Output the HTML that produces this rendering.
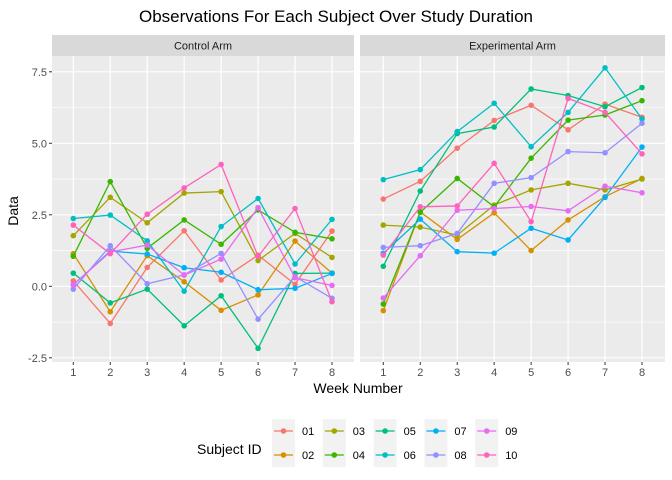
<!DOCTYPE html>
<html><head><meta charset="utf-8"><style>
body{margin:0;background:#fff;}
svg{display:block;font-family:"Liberation Sans",sans-serif;}
</style></head><body>
<svg id="chart" width="672" height="480" viewBox="0 0 672 480">
<text x="336" y="22" text-anchor="middle" font-size="17" fill="#000">Observations For Each Subject Over Study Duration</text>
<g id="panels"></g>
<text x="358" y="393" text-anchor="middle" font-size="14" fill="#000">Week Number</text>
<text transform="translate(18,211) rotate(-90)" text-anchor="middle" font-size="14" fill="#000">Data</text>
<text x="197" y="454" font-size="14" fill="#000">Subject ID</text>
<g id="legend"></g>
</svg>
<script>
const weeks=[1,2,3,4,5,6,7,8];
const subjects=["01","02","03","04","05","06","07","08","09","10"];
const colors=["#F8766D","#D89000","#A3A500","#39B600","#00BF7D","#00BFC4","#00B0F6","#9590FF","#E76BF3","#FF62BC"];
const yTicks=[-2.5,0,2.5,5,7.5];
const yTickLabels=["-2.5","0.0","2.5","5.0","7.5"];
const panelNames=["Control Arm","Experimental Arm"];
const control=[
[0.19,-1.3,0.66,1.94,0.22,1.09,0.07,1.93],
[1.14,-0.89,1.07,0.16,-0.84,-0.3,1.58,0.46],
[1.77,3.11,2.22,3.26,3.31,0.9,1.85,1.01],
[1.05,3.66,1.33,2.32,1.47,2.67,1.89,1.66],
[0.46,-0.58,-0.1,-1.38,-0.33,-2.17,0.45,0.46],
[2.37,2.49,1.59,-0.17,2.09,3.07,0.78,2.34],
[0.05,1.23,1.13,0.65,0.49,-0.12,-0.07,0.45],
[-0.1,1.42,0.09,0.4,1.15,-1.15,0.34,-0.42],
[0.05,1.2,1.44,0.39,0.95,2.75,0.3,0.03],
[2.14,1.14,2.52,3.44,4.26,1.04,2.72,-0.54]];
const experimental=[
[3.05,3.67,4.83,5.8,6.33,5.47,6.37,5.91],
[-0.85,2.6,1.64,2.57,1.25,2.32,3.13,3.77],
[2.14,2.07,1.79,2.84,3.37,3.6,3.37,3.75],
[-0.62,2.59,3.77,2.78,4.48,5.81,5.99,6.49],
[0.7,3.33,5.34,5.57,6.9,6.67,6.28,6.95],
[3.73,4.08,5.41,6.4,4.88,6.08,7.64,5.85],
[1.15,2.35,1.21,1.16,2.03,1.62,3.11,4.87],
[1.36,1.42,1.85,3.6,3.8,4.71,4.67,5.7],
[-0.41,1.07,2.66,2.72,2.79,2.64,3.5,3.27],
[1.09,2.78,2.81,4.3,2.26,6.57,6.08,4.63]];
const datasets=[control,experimental];
const NS="http://www.w3.org/2000/svg";
function mk(t,a,p){const e=document.createElementNS(NS,t);for(const k in a)e.setAttribute(k,a[k]);p.appendChild(e);return e;}
const panelX=[52,360],panelW=[302,305],pTop=56,pBot=362;
function yS(v){return 286.3-28.6*v;}
const panels=document.getElementById('panels');
for(let p=0;p<2;p++){
 const x0=panelX[p],w=panelW[p];
 const first=p==0?73.3:383.3,last=p==0?332:642;
 const sp=(last-first)/7;
 const xS=function(wk){return first+(wk-1)*sp;};
 const g=mk('g',{},panels);
 
 
 const strip=mk('rect',{x:x0,y:35,width:w,height:21,fill:'#D9D9D9'},g);
 
 
 const st=mk('text',{x:x0+w/2,y:49.5,'text-anchor':'middle','font-size':11,fill:'#1a1a1a'},g);
 st.textContent=panelNames[p];
 
 
 mk('rect',{x:x0,y:pTop,width:w,height:pBot-pTop,fill:'#EBEBEB'},g);
 for(let i=0;i<yTicks.length-1;i++){const v=(yTicks[i]+yTicks[i+1])/2;mk('line',{x1:x0,x2:x0+w,y1:yS(v),y2:yS(v),stroke:'#fff','stroke-width':0.6},g);}
 yTicks.forEach(v=>mk('line',{x1:x0,x2:x0+w,y1:yS(v),y2:yS(v),stroke:'#fff','stroke-width':1.2},g));
 weeks.forEach(wk=>{mk('line',{x1:xS(wk),x2:xS(wk),y1:pTop,y2:pBot,stroke:'#fff','stroke-width':1.2},g);
  mk('line',{x1:xS(wk),x2:xS(wk),y1:pBot,y2:pBot+3,stroke:'#333','stroke-width':1},g);
  const t=mk('text',{x:xS(wk),y:pBot+14,'text-anchor':'middle','font-size':11,fill:'#4d4d4d'},g);t.textContent=wk;
  
  });
 if(p==0){yTicks.forEach((v,i)=>{mk('line',{x1:x0-3,x2:x0,y1:yS(v),y2:yS(v),stroke:'#333','stroke-width':1},g);
  const t=mk('text',{x:x0-5,y:yS(v)+4,'text-anchor':'end','font-size':11,fill:'#4d4d4d'},g);t.textContent=yTickLabels[i];
  
  });}
 const data=datasets[p];
 data.forEach((s,si)=>{
  const sg=mk('g',{},g);
  
  
  mk('polyline',{points:s.map((v,i)=>xS(weeks[i])+','+yS(v)).join(' '),fill:'none',stroke:colors[si],'stroke-width':1.3},sg);
  s.forEach((v,i)=>{const c=mk('circle',{cx:xS(weeks[i]),cy:yS(v),r:2.8,fill:colors[si]},sg);
   
   });
 });
}
const lg=document.getElementById('legend');
subjects.forEach((s,i)=>{
 const col=Math.floor(i/2),row=i%2;
 const bx=272+col*50.8,cy=row==0?431:455;
 const g=mk('g',{},lg);
 
 
 mk('rect',{x:bx,y:cy-12,width:23,height:24,fill:'#F2F2F2'},g);
 mk('line',{x1:bx+2,x2:bx+21,y1:cy,y2:cy,stroke:colors[i],'stroke-width':1.3},g);
 mk('circle',{cx:bx+11.5,cy:cy,r:2.8,fill:colors[i]},g);
 const t=mk('text',{x:bx+30,y:cy+4,'font-size':11,fill:'#000'},g);t.textContent=s;
});
</script>
</body></html>
